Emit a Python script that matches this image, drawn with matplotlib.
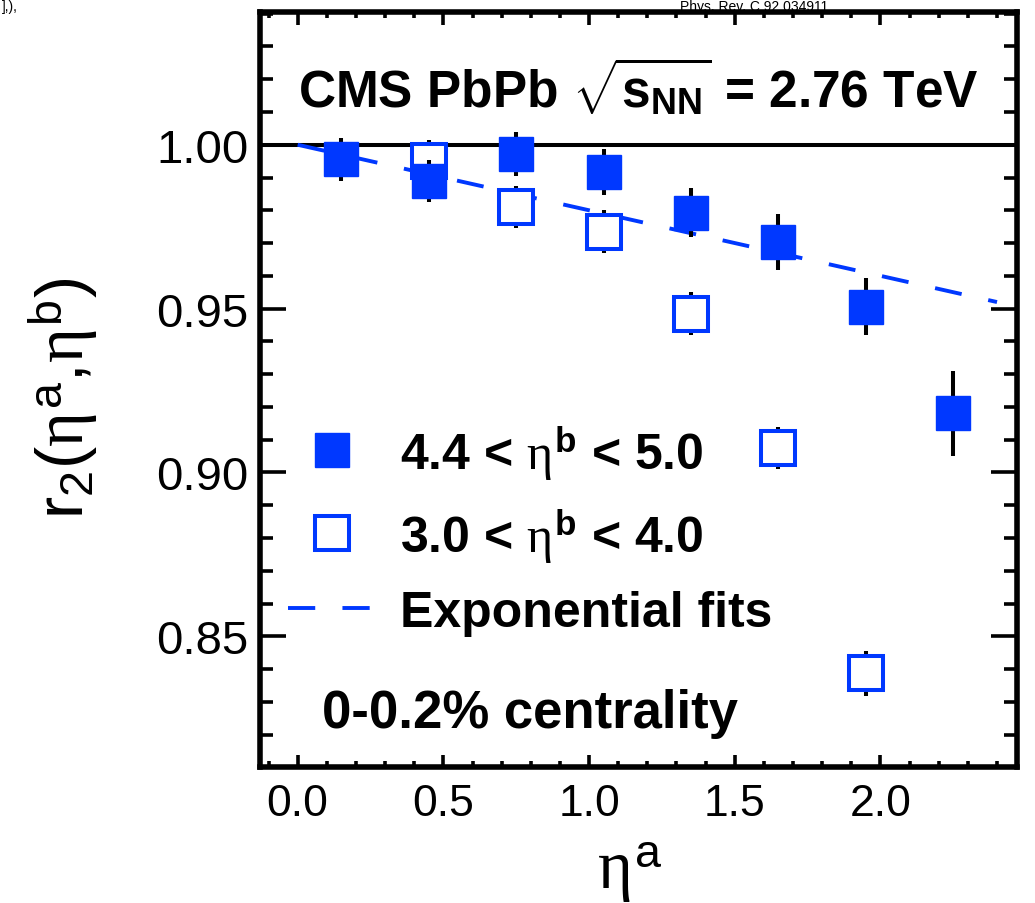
# r2(eta_a, eta_b) factorization ratio, CMS PbPb 2.76 TeV, 0-0.2% centrality
import matplotlib
matplotlib.use("Agg")
import matplotlib.pyplot as plt
from matplotlib.lines import Line2D
from matplotlib.ticker import MultipleLocator, FormatStrFormatter

# data
eta_a_filled = [0.15, 0.45, 0.75, 1.05, 1.35, 1.65, 1.95, 2.25]
r2_filled = [0.9955, 0.9889, 0.9973, 0.9918, 0.9793, 0.9704, 0.9506, 0.9180]
err_filled = [0.0065, 0.0064, 0.0067, 0.0070, 0.0075, 0.0085, 0.0088, 0.0130]

eta_a_open = [0.45, 0.75, 1.05, 1.35, 1.65, 1.95]
r2_open = [0.9950, 0.9810, 0.9735, 0.9485, 0.9075, 0.8387]
err_open = [0.0065, 0.0065, 0.0065, 0.0067, 0.0065, 0.0068]

fit_x = [0.0, 0.6, 1.2, 1.8, 2.4]
fit_y = [1.000, 0.988, 0.976, 0.964, 0.952]

labels = [r"4.4 < $\eta^{\mathbf{b}}$ < 5.0", r"3.0 < $\eta^{\mathbf{b}}$ < 4.0", "Exponential fits"]

blue = "#0038ff"

plt.rcParams["font.family"] = ["Liberation Sans", "DejaVu Sans"]
plt.rcParams["mathtext.fontset"] = "custom"
plt.rcParams["mathtext.rm"] = "Liberation Sans"
plt.rcParams["mathtext.sf"] = "Liberation Sans"
plt.rcParams["mathtext.it"] = "Liberation Serif"
plt.rcParams["mathtext.bf"] = "Liberation Sans:bold"

fig = plt.figure(figsize=(10.35, 9.04), dpi=100)
ax = fig.add_axes([0.251, 0.150, 0.732, 0.8356])

ax.axhline(1.0, color="k", lw=2.9, zorder=1)

ax.errorbar(eta_a_open, r2_open, yerr=err_open, fmt="none", ecolor="k",
            elinewidth=2.9, capsize=0, zorder=2)
ax.plot(eta_a_open, r2_open, ls="none", marker="s", ms=25, mfc="white",
        mec=blue, mew=2.9, zorder=3)

ax.errorbar(eta_a_filled, r2_filled, yerr=err_filled, fmt="none", ecolor="k",
            elinewidth=2.9, capsize=0, zorder=4)
ax.plot(eta_a_filled, r2_filled, ls="none", marker="s", ms=24, mfc=blue,
        mec=blue, mew=1, zorder=5)

ax.plot(fit_x, fit_y, color=blue, lw=2.8, dashes=(7, 7), zorder=2.5)

ax.set_xlim(-0.13, 2.47)
ax.set_ylim(0.81, 1.0405)

ax.xaxis.set_major_locator(MultipleLocator(0.5))
ax.xaxis.set_minor_locator(MultipleLocator(0.1))
ax.yaxis.set_major_locator(MultipleLocator(0.05))
ax.yaxis.set_minor_locator(MultipleLocator(0.01))
ax.xaxis.set_major_formatter(FormatStrFormatter("%.1f"))
ax.yaxis.set_major_formatter(FormatStrFormatter("%.2f"))

ax.tick_params(axis="both", which="both", direction="in", top=True, right=True,
               width=2.6, colors="k")
ax.tick_params(axis="x", which="major", length=9, pad=11, labelsize=32)
ax.tick_params(axis="x", which="minor", length=4.5)
ax.tick_params(axis="y", which="major", length=19, pad=8, labelsize=34)
ax.tick_params(axis="y", which="minor", length=9.5)
for s in ax.spines.values():
    s.set_linewidth(4)

ax.set_xlabel(r"$\eta^{\mathrm{a}}$", fontsize=48, va="center")
ax.xaxis.set_label_coords(0.489, -0.138)
ax.set_ylabel(r"r$_{\mathrm{2}}$($\eta^{\mathrm{a}}$,$\eta^{\mathrm{b}}$)", fontsize=48, va="center")
ax.yaxis.set_label_coords(-0.258, 0.49)

ax.text(0.05, 0.90, r"CMS PbPb $\sqrt{\mathbf{s}_{\mathbf{NN}}}$ = 2.76 TeV",
        transform=ax.transAxes, fontsize=37, fontweight="bold", va="center")
ax.text(0.082, 0.072, "0-0.2% centrality", transform=ax.transAxes,
        fontsize=38, fontweight="bold", va="center")

handles = [
    Line2D([], [], ls="none", marker="s", ms=24, mfc=blue, mec=blue, mew=1),
    Line2D([], [], ls="none", marker="s", ms=25, mfc="white", mec=blue, mew=2.9),
    Line2D([], [], color=blue, lw=2.8, dashes=(7, 7)),
]
leg = ax.legend(handles, labels, loc="upper left", bbox_to_anchor=(0.037, 0.455),
                frameon=False, fontsize=36, handlelength=1.76, handletextpad=0.48,
                labelspacing=0.5, borderpad=0, borderaxespad=0)
for t in leg.get_texts():
    t.set_fontweight("bold")

# journal reference text at the top edge of the image
fig.text(0.657, 1.0, "Phys. Rev. C 92 034911", fontsize=10, va="top")
fig.text(0.002, 1.0, "],),", fontsize=10, va="top")

fig.savefig("out.png", dpi=100)
